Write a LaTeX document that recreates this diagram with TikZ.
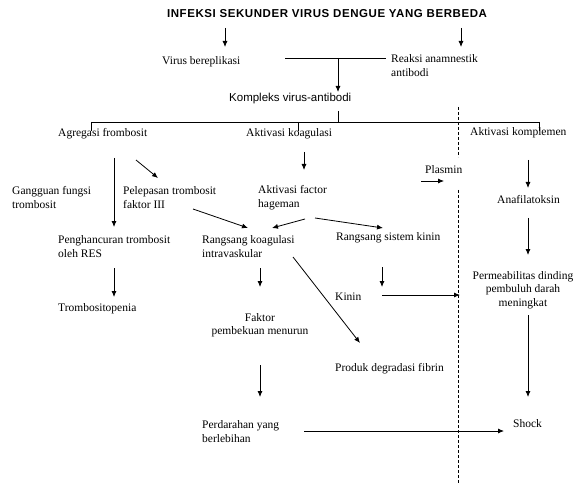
\documentclass[tikz,border=0pt]{standalone}
\usepackage{fontspec}
\setmainfont{Liberation Serif}
\newfontfamily\titlefont[LetterSpace=5]{Liberation Sans}
\newfontfamily\sansfont{Liberation Sans}
\usetikzlibrary{arrows.meta}
\begin{document}
\begin{tikzpicture}[x=1pt,y=-1pt,
  txt/.style={inner sep=0pt,anchor=west,align=left,font=\fontsize{11.5}{13.5}\selectfont},
  ctxt/.style={inner sep=0pt,align=center,font=\fontsize{11.5}{13.5}\selectfont},
  ln/.style={line width=0.8pt},
  arr/.style={line width=0.8pt,-{Latex[length=6pt,width=5pt]}},
  dsh/.style={line width=0.8pt,dash pattern=on 3pt off 2pt}]
\useasboundingbox (0,0) rectangle (588,486);
% texts
\node[inner sep=0pt,font=\titlefont\bfseries\fontsize{11.5}{13}\selectfont] (title) at (327,14) {INFEKSI SEKUNDER VIRUS DENGUE YANG BERBEDA};
\node[txt] (virus) at (162,62) {Virus bereplikasi};
\node[txt] (reaksi) at (391,65.5) {Reaksi anamnestik\\antibodi};
\node[txt,font=\sansfont\fontsize{11.5}{13.5}\selectfont] (kompleks) at (229,99) {Kompleks virus-antibodi};
\node[txt] (agregasi) at (58,134) {Agregasi frombosit};
\node[txt] (aktkoag) at (246,134) {Aktivasi koagulasi};
\node[txt] (aktkomp) at (470,133) {Aktivasi komplemen};
\node[txt] (gangguan) at (12,197.5) {Gangguan fungsi\\trombosit};
\node[txt] (pelepasan) at (123,197.5) {Pelepasan trombosit\\faktor III};
\node[txt] (hageman) at (258,197.5) {Aktivasi factor\\hageman};
\node[txt] (plasmin) at (425,170) {Plasmin};
\node[txt] (anafil) at (497,200) {Anafilatoksin};
\node[txt] (penghancuran) at (58,246.5) {Penghancuran trombosit\\oleh RES};
\node[txt] (rangsang) at (202,246.5) {Rangsang koagulasi\\intravaskular};
\node[txt] (kininsys) at (336,238) {Rangsang sistem kinin};
\node[ctxt] (permeab) at (523,290) {Permeabilitas dinding\\pembuluh darah\\meningkat};
\node[txt] (trombosito) at (58,309) {Trombositopenia};
\node[txt] (kinin) at (335,297) {Kinin};
\node[ctxt] (faktor) at (260,325) {Faktor\\pembekuan menurun};
\node[txt] (produk) at (335,369) {Produk degradasi fibrin};
\node[txt] (perdarahan) at (202,431.5) {Perdarahan yang\\berlebihan};
\node[txt] (shock) at (513,424) {Shock};
% top part
\draw[arr] (225,28) -- (225,47);
\draw[arr] (461,28) -- (461,47);
\draw[ln] (285,58) -- (386,58);
\draw[arr] (338,58) -- (338,92);
\draw[ln] (338,111) -- (338,122);
\draw[ln] (91,122) -- (539,122);
\draw[ln] (91,122) -- (91,131);
\draw[ln] (298,122) -- (298,131);
\draw[ln] (539,122) -- (539,131);
\draw[dsh] (458,107) -- (458,157);
\draw[dsh] (458,190) -- (458,484);
% left branch
\draw[arr] (114,158) -- (114,227);
\draw[arr] (136,160) -- (158,178);
\draw[arr] (193,209) -- (248,228);
\draw[arr] (114,268) -- (114,297);
% middle branch
\draw[arr] (304,152) -- (304,170);
\draw[arr] (305,219) -- (272,228);
\draw[arr] (315,218) -- (383,228);
\draw[arr] (260,268) -- (260,287);
\draw[arr] (293,257) -- (360,343);
\draw[arr] (382,267) -- (382,287);
\draw[arr] (382,295) -- (460,295);
\draw[arr] (421,181) -- (444,181);
\draw[arr] (260,365) -- (260,397);
\draw[arr] (304,431) -- (504,431);
% right branch
\draw[arr] (528,160) -- (528,188);
\draw[arr] (528,218) -- (528,255);
\draw[arr] (528,315) -- (528,397);
\end{tikzpicture}
\end{document}
